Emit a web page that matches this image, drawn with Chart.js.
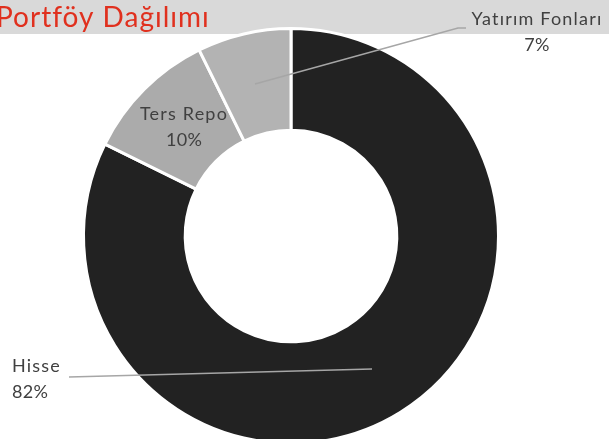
<!DOCTYPE html>
<html>
<head>
<meta charset="utf-8">
<script src="https://cdn.jsdelivr.net/npm/chart.js@4"></script>
<style>
  html, body { margin: 0; padding: 0; background: #fff; overflow: hidden; }
  #wrap { width: 609px; height: 439px; overflow: hidden; position: relative; }
  canvas { position: absolute; left: 0; top: 0; }
</style>
</head>
<body>
<div id="wrap"><canvas id="pie" width="609" height="472"></canvas></div>
<script>
var chartTitle = 'Portföy Dağılımı';
var labels = ['Hisse', 'Ters Repo', 'Yatırım Fonları'];
var values = [82.3, 10.4, 7.3];
var shownPct = ['82%', '10%', '7%'];
var colors = ['#222222', '#ababab', '#b3b3b3'];

// where each label sits and where its leader line goes (null = no line)
var labelSpots = [
  { x: 12, y: 366, align: 'left', line: [[372, 369], [69, 377]] },
  { x: 184, y: 114, align: 'center', line: null },
  { x: 537, y: 19, align: 'center', line: [[255, 84], [458, 28], [466, 28]] }
];

var bandPlugin = {
  id: 'band',
  beforeDraw: function(chart) {
    var ctx = chart.ctx;
    ctx.save();
    ctx.fillStyle = '#d9d9d9';
    ctx.fillRect(0, 0, chart.width, 34);
    ctx.restore();
  },
  afterDraw: function(chart) {
    var ctx = chart.ctx;
    ctx.save();
    ctx.fillStyle = '#e0301e';
    ctx.font = '28px Lato';
    ctx.letterSpacing = '1px';
    ctx.textBaseline = 'alphabetic';
    ctx.textAlign = 'left';
    ctx.fillText(chartTitle, -4, 27);

    ctx.textBaseline = 'middle';
    ctx.strokeStyle = '#a6a6a6';
    ctx.lineWidth = 1.5;
    labelSpots.forEach(function(s, i) {
      if (s.line) {
        ctx.beginPath();
        ctx.moveTo(s.line[0][0], s.line[0][1]);
        for (var k = 1; k < s.line.length; k++) ctx.lineTo(s.line[k][0], s.line[k][1]);
        ctx.stroke();
      }
      ctx.fillStyle = '#404040';
      ctx.font = '18px Lato';
      ctx.letterSpacing = '1.2px';
      ctx.textAlign = s.align;
      ctx.fillText(labels[i], s.x, s.y);
      ctx.letterSpacing = '0.3px';
      ctx.fillText(shownPct[i], s.x, s.y + 26);
    });
    ctx.restore();
  }
};

new Chart(document.getElementById('pie'), {
  type: 'doughnut',
  data: {
    labels: labels,
    datasets: [{
      data: values,
      backgroundColor: colors,
      borderColor: '#ffffff',
      borderWidth: 3
    }]
  },
  options: {
    responsive: false,
    animation: false,
    cutout: '51%',
    layout: { padding: { left: 82, right: 109, top: 27, bottom: 27 } },
    plugins: {
      legend: { display: false },
      tooltip: { enabled: false }
    }
  },
  plugins: [bandPlugin]
});
</script>
</body>
</html>
